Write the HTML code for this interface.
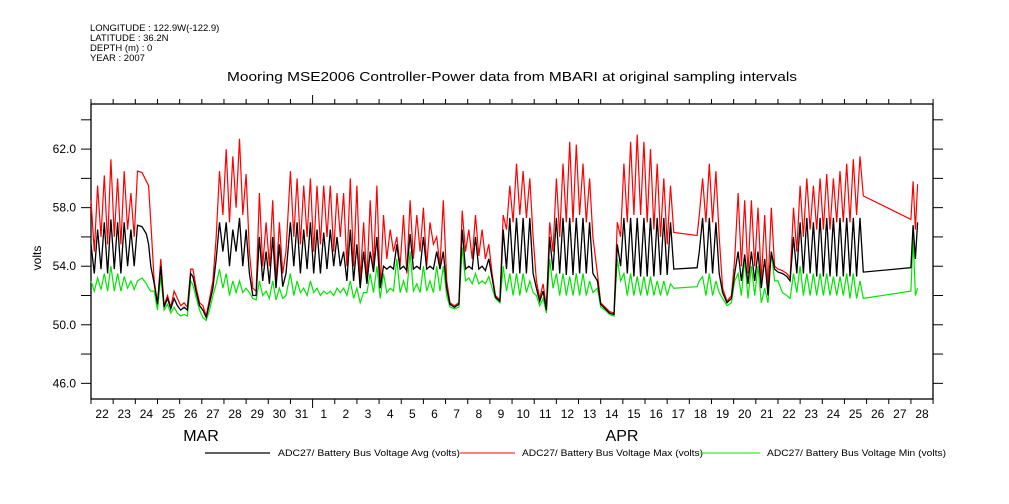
<!DOCTYPE html>
<html><head><meta charset="utf-8"><style>
html,body{margin:0;padding:0;background:#fff;width:1009px;height:504px;overflow:hidden}
svg{display:block;font-family:"Liberation Sans",sans-serif}
</style></head><body>
<svg id="chart" width="1009" height="504" xmlns="http://www.w3.org/2000/svg">
<g font-size="9.5" fill="#000">
<text x="90" y="31">LONGITUDE : 122.9W(-122.9)</text>
<text x="90" y="41">LATITUDE : 36.2N</text>
<text x="90" y="51">DEPTH (m) : 0</text>
<text x="90" y="61">YEAR : 2007</text>
</g>
<text x="512" y="81" text-anchor="middle" font-size="13" textLength="570" lengthAdjust="spacingAndGlyphs">Mooring MSE2006 Controller-Power data from MBARI at original sampling intervals</text>
<text transform="translate(41,258) rotate(-90)" text-anchor="middle" font-size="12">volts</text>
<g id="axes"></g>
<g id="series"></g>
<g font-size="9">
<line x1="205" y1="453" x2="270" y2="453" stroke="#000" stroke-width="1.3"/>
<text x="278" y="456" textLength="182" lengthAdjust="spacingAndGlyphs">ADC27/ Battery Bus Voltage Avg (volts)</text>
<line x1="460" y1="453" x2="515" y2="453" stroke="#f00" stroke-width="1"/>
<text x="522" y="456" textLength="181" lengthAdjust="spacingAndGlyphs">ADC27/ Battery Bus Voltage Max (volts)</text>
<line x1="700" y1="453" x2="760" y2="453" stroke="#0e0" stroke-width="1"/>
<text x="767" y="456" textLength="179" lengthAdjust="spacingAndGlyphs">ADC27/ Battery Bus Voltage Min (volts)</text>
</g>
</svg>
<script>
const dayLabels=[22,23,24,25,26,27,28,29,30,31,1,2,3,4,5,6,7,8,9,10,11,12,13,14,15,16,17,18,19,20,21,22,23,24,25,26,27,28];
const yTickValues=[46,48,50,52,54,56,58,60,62,64];
const yLabelValues=[46,50,54,58,62];
const times=[
0,0.15,0.3,0.45,0.6,0.75,0.9,1.05,1.2,1.35,1.5,1.65,1.8,1.95,
2.1,2.3,2.5,2.6,2.7,
2.85,3.0,3.15,3.3,3.45,3.6,
3.75,3.9,4.05,4.2,4.35,
4.5,4.6,4.75,4.9,
5.05,5.2,5.35,
5.5,5.65,5.8,5.95,
6.1,6.25,6.4,6.55,6.7,6.85,7.0,
7.15,7.3,7.45,
7.6,7.75,7.9,8.05,8.2,8.35,8.5,8.65,8.8,
9.0,9.15,9.3,9.45,9.6,9.75,9.9,10.05,10.2,10.35,10.5,10.65,10.8,10.95,11.1,11.25,
11.4,11.55,11.7,11.85,12.0,12.15,12.3,
12.45,12.6,12.75,12.9,13.05,13.2,13.35,13.5,13.65,13.8,13.95,14.1,14.25,14.4,14.55,14.7,14.85,15.0,15.15,15.3,15.45,15.6,15.75,15.9,
16.05,16.2,16.4,16.6,
16.75,16.9,17.05,17.2,17.35,17.5,17.65,17.8,17.95,18.1,
18.25,18.45,
18.6,18.75,18.9,19.05,19.2,19.35,19.5,19.65,19.8,19.95,
20.1,20.25,20.4,20.55,
20.7,20.85,21.0,21.15,21.3,21.45,21.6,21.75,21.9,22.05,22.2,22.35,22.5,22.65,
22.85,23.0,23.2,23.4,23.6,
23.75,23.9,24.05,24.2,24.35,24.5,24.65,24.8,24.95,25.1,25.25,25.4,25.55,25.7,25.85,26.0,26.15,
26.3,27.35,
27.45,27.6,27.75,27.9,28.05,28.2,28.35,
28.5,28.7,28.9,
29.05,29.2,29.35,29.5,29.65,29.8,29.95,30.1,30.25,30.4,30.55,30.7,30.85,
31.0,31.2,31.4,31.55,
31.7,31.85,32.0,32.15,32.3,32.45,32.6,32.75,32.9,33.05,33.2,33.35,33.5,33.65,33.8,33.95,34.1,34.25,34.4,34.55,34.7,
34.85,37.0,
37.1,37.2,37.3];
const maxValues=[
58.5,55,59.5,56,60.2,55.5,61.3,56,60,55.5,60.5,56.5,59,56,
60.5,60.4,59.8,59.5,57,
53,51.5,54.5,51.3,52,51.2,
52.3,51.8,51.3,51.5,51.2,
53.8,53.8,52.5,51.5,
51.3,50.6,51.8,
53,56,60.5,57.5,
62,57,61.5,58,62.7,57.5,60.3,
55,52.5,52.3,
59,54,57,54,58.5,53,57,53.5,55,
60.5,56,60,55.5,59.5,56,60,55,59.5,55.5,59.5,56,59.5,55,59,56,
59,54,60,54,59.5,53,57,
53,58.5,54,59.5,52.5,57.5,54.5,56.5,55,56,54,57.5,53.5,58.5,54.5,57.5,55,58,54,57,55.5,56,54,58.5,
53,51.5,51.3,51.5,
57.8,55,56.5,54.5,57.5,54.7,56.5,54.5,55.5,53.5,
52,51.7,
57.5,56.5,59.5,57,61,57.5,60.5,57.3,60,56,
53,51.8,52.8,51.2,
57,55,60,56,61,57,62.5,57,62.3,57.5,61,57,60,56,
53.5,51.5,51.2,50.9,50.8,
57,56,61,57,62.5,57.5,63,57.5,62.5,57,62,56.5,61,56,60,55.5,59.5,
56.3,56.1,
57.5,60,57,61,57,60.5,56,
52.5,51.6,52,
54.5,59,54,58.5,53.5,58.5,54,58,53,57.5,52.5,58,54,
53.8,53.7,53.5,53.2,
58,55,59.5,56,60,56.5,59.5,56.5,60,56.5,60.3,56.5,60,57,60.5,57,61,57,61.3,57.5,61.5,
58.8,57.2,
59.8,56.5,59.6];
const avgValues=[
55.5,53.5,56.5,53.8,57,53.5,57.2,53.8,57,53.5,57,54,56.5,54,
56.8,56.7,56.2,55.5,54,
52.8,51.4,54,51.2,51.8,51.1,
51.8,51.3,51,51.2,51,
53.5,53.3,52.2,51.3,
51,50.5,51.5,
52.5,54.5,57,55,
57,54,56.5,55,57.3,54,56.5,
53.5,52,52,
56,53,55,52.8,56,52.5,55.5,52.6,53.5,
57,54,57,53.5,56.5,53.8,57,53.5,56.5,53.5,56.3,53.8,56.5,54,56,54,
55,53,56.5,53,55.5,52.5,55,
52.8,55,53.6,56,52.5,54,53.8,54,53.8,55.5,53.8,54,53.7,56.2,53.8,54,53.8,56,53.8,54,53.8,55,53.8,55,
52.5,51.4,51.2,51.4,
56.5,53.8,54,53.8,56,53.8,54,53.7,54.5,53.2,
51.9,51.6,
56.5,53.8,57.3,53.5,57.3,53.5,57.3,53.5,57.3,53.5,
52.5,51.6,52.3,51,
56,53.7,57.3,53.5,57.3,53.4,57.3,53.4,57.3,53.5,57.3,53.5,57,53.5,
53,51.4,51.1,50.8,50.7,
55.5,54,57.3,53.5,57.3,53.3,57.3,53.3,57.3,53.3,57.3,53.3,57.3,53.4,57.3,53.4,57,
53.8,53.9,
55,57.3,53.5,57.3,53.5,57,53.5,
52.2,51.5,51.8,
53.5,55,53,54.8,52.8,55,53,55,52.5,54.5,52,55,53.8,
53.6,53.5,53.3,53,
56,53.5,57,53.5,57.3,53.5,57,53.3,57.3,53.3,57.3,53.3,57.3,53.3,57.3,53.3,57.3,53.3,57.3,53.3,57.3,
53.6,53.9,
56.8,54.5,57];
const minValues=[
53,52.3,53.2,52.4,53.5,52.3,54,52.3,53.5,52.3,53.3,52.5,53,52.4,
53,53.2,52.8,52.5,52.3,
52.3,51,53.3,51,51.4,50.8,
51.2,50.8,50.6,50.7,50.6,
53,52.7,51.8,51,
50.5,50.3,51,
52,52.8,53.8,52.5,
53.5,52,53,52.2,53,52.2,52.5,
52.2,51.8,51.7,
53,52,52.3,51.8,53,51.7,52.5,51.8,52,
53.5,52,53,52.2,52.5,52,53,52.2,52.5,52,52.3,52.1,52.3,52,52.5,52.2,
52.5,52,53,51.8,52.5,51.5,52.2,
52.2,53.5,52.2,54,51.8,53.5,52.2,52.5,52.3,54.5,52.2,53,52.2,55,52.3,52.8,52.2,54,52.3,53,52.2,54,52.3,54,
52,51.2,51.1,51.2,
55.3,53,53.2,52.8,53.5,52.8,53,52.8,53.3,52.5,
51.8,51.5,
54,52.3,53.5,52,53.5,52,53.5,52.2,53,52.2,
52,51.3,51.8,50.8,
54.5,52.5,53.5,52,53.5,52,53.3,52,53.5,52,53.5,52,53,52.2,
52.5,51.2,51,50.7,50.6,
54.5,53,53.5,52,53.5,52,53.3,52,53.3,52,53.3,52,53,52,53,52,52.8,
52.5,52.6,
53,53.3,52,53.5,52,53,52.2,
51.8,51.3,51.5,
53,53.5,52,54.5,51.8,54,52,54,51.5,52.5,51.5,55,53,
53,52.2,52,51.8,
53.5,52.2,54,52,53.5,52,53.5,52,53.5,52,53.5,52,53.3,52,53.3,52,53.5,51.8,53.5,51.8,53,
51.8,52.3,
56,52,52.5];

const NS="http://www.w3.org/2000/svg";
const L=91,R=933,T=104,B=399,dayPx=22.16;
const yMin=44.93,yMax=65.08;
function xs(d){return L+d*dayPx;}
function ys(v){return B-(v-yMin)/(yMax-yMin)*(B-T);}
function mk(tag,attrs,parent){const e=document.createElementNS(NS,tag);for(const k in attrs)e.setAttribute(k,attrs[k]);parent.appendChild(e);return e;}
const axes=document.getElementById('axes');
const frame=mk('rect',{x:L,y:T,width:R-L,height:B-T,fill:'none',stroke:'#000','stroke-width':1.3},axes);


yTickValues.forEach(v=>{
  const y=ys(v);
  const t1=mk('line',{x1:L-10,y1:y,x2:L,y2:y,stroke:'#000','stroke-width':1},axes);
  
  
  const t2=mk('line',{x1:R,y1:y,x2:R+10,y2:y,stroke:'#000','stroke-width':1},axes);
  
  
});
yLabelValues.forEach(v=>{
  const tx=mk('text',{x:L-15,y:ys(v)+4,'text-anchor':'end','font-size':12},axes);
  tx.textContent=v.toFixed(1);
  
  
});
for(let i=0;i<=dayLabels.length;i++){
  const x=xs(i);
  if(x>R+1)break;
  const isMonth=(i===10);
  const b=mk('line',{x1:x,y1:B,x2:x,y2:B+(isMonth?9:5),stroke:'#000','stroke-width':1},axes);
  
  
  const t=mk('line',{x1:x,y1:T,x2:x,y2:T-(isMonth?9:5),stroke:'#000','stroke-width':1},axes);
  
  
}
dayLabels.forEach((lab,i)=>{
  const tx=mk('text',{x:xs(i+0.5),y:418,'text-anchor':'middle','font-size':12},axes);
  tx.textContent=lab;
  
  
});
const m1=mk('text',{x:201,y:441,'text-anchor':'middle','font-size':16},axes);
m1.textContent='MAR';


const m2=mk('text',{x:622,y:441,'text-anchor':'middle','font-size':16},axes);
m2.textContent='APR';


const sg=document.getElementById('series');
function line(vals,color,w,name){
  const pts=times.map((t,i)=>xs(t).toFixed(1)+','+ys(vals[i]).toFixed(1)).join(' ');
  const p=mk('polyline',{points:pts,fill:'none',stroke:color,'stroke-width':w,'stroke-linejoin':'miter'},sg);
  
  
}
line(minValues,'#00e600',1.2,'series-min');
line(maxValues,'#ff0000',1.2,'series-max');
line(avgValues,'#000000',1.3,'series-avg');
</script>
</body></html>
